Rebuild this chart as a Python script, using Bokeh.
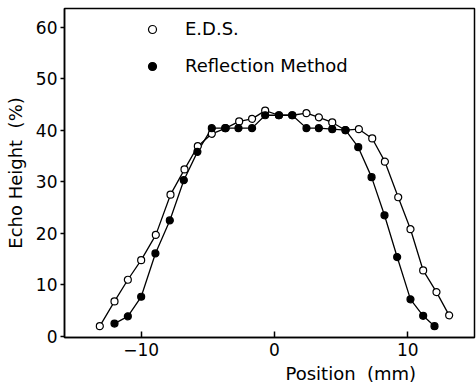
from bokeh.plotting import figure
from bokeh.models import Range1d, FixedTicker, Legend, LegendItem, Title
from bokeh.embed import file_html
from bokeh.resources import INLINE

# E.D.S. (open circles)
eds_x = [-13.1, -12.0, -11.0, -10.0, -8.9, -7.8, -6.75, -5.75, -4.7, -3.65, -2.65,
         -1.68, -0.7, 0.33, 1.33, 2.4, 3.33, 4.33, 5.33, 6.33, 7.33, 8.28, 9.28,
         10.2, 11.15, 12.15, 13.1]
eds_y = [2.0, 6.8, 11.0, 14.8, 19.7, 27.5, 32.4, 36.9, 39.3, 40.4, 41.7,
         42.2, 43.8, 42.9, 42.9, 43.3, 42.5, 41.5, 40.0, 40.2, 38.4, 33.9, 27.0,
         20.8, 12.8, 8.6, 4.1]

# Reflection Method (filled circles)
ref_x = [-12.0, -11.0, -10.0, -8.93, -7.85, -6.8, -5.78, -4.7, -3.7, -2.7,
         -1.68, -0.7, 0.33, 1.33, 2.4, 3.33, 4.33, 5.33, 6.28, 7.28, 8.25, 9.2,
         10.2, 11.15, 12.0]
ref_y = [2.5, 3.9, 7.7, 16.1, 22.5, 30.3, 35.8, 40.4, 40.4, 40.4,
         40.4, 42.9, 42.9, 42.9, 40.4, 40.4, 40.2, 40.0, 36.7, 30.9, 23.5, 15.4,
         7.2, 4.0, 2.0]

x_ticks = [-10, 0, 10]
y_ticks = [0, 10, 20, 30, 40, 50, 60]

FONT = "DejaVu Sans"

p = figure(width=476, height=385, output_backend="svg", toolbar_location=None,
           x_range=Range1d(-15.75, 15.0), y_range=Range1d(-0.2, 63.6),
           min_border_left=64, min_border_right=2, min_border_top=8,
           min_border_bottom=47)
p.background_fill_color = "white"
p.border_fill_color = "white"
p.outline_line_color = "black"
p.outline_line_width = 1.5
p.grid.visible = False

p.line(eds_x, eds_y, line_color="black", line_width=1.3)
p.line(ref_x, ref_y, line_color="black", line_width=1.3)
r_eds = p.scatter(eds_x, eds_y, size=7, marker="circle", fill_color="white",
                  line_color="black", line_width=1.2)
r_ref = p.scatter(ref_x, ref_y, size=7, marker="circle", fill_color="black",
                  line_color="black", line_width=1.2)

xa = p.xaxis[0]
xa.ticker = FixedTicker(ticks=x_ticks)
xa.major_tick_in = 6
xa.major_tick_out = 0
xa.minor_tick_line_color = None
xa.axis_line_width = 1.5
xa.major_tick_line_width = 1.5
xa.major_label_text_font = FONT
xa.major_label_text_font_size = "17px"
xa.major_label_text_color = "black"
xa.major_label_standoff = 5

ya = p.yaxis[0]
ya.ticker = FixedTicker(ticks=y_ticks)
ya.major_tick_in = 0
ya.major_tick_out = 4
ya.minor_tick_line_color = None
ya.axis_line_width = 1.5
ya.major_tick_line_width = 1.5
ya.major_label_text_font = FONT
ya.major_label_text_font_size = "17px"
ya.major_label_text_color = "black"
ya.major_label_standoff = 3
ya.axis_label = "Echo Height\u00a0 (%)"
ya.axis_label_text_font = FONT
ya.axis_label_text_font_style = "normal"
ya.axis_label_text_font_size = "18px"
ya.axis_label_text_color = "black"
ya.axis_label_standoff = 7

xtitle = Title(text="Position\u00a0 (mm)", align="left", offset=221,
               text_font=FONT, text_font_size="18px", text_font_style="normal",
               text_color="black", standoff=4)
p.add_layout(xtitle, "below")

legend = Legend(items=[LegendItem(label="E.D.S.", renderers=[r_eds]),
                       LegendItem(label="Reflection Method", renderers=[r_ref])],
                location=(78, 261), orientation="vertical",
                glyph_width=20, glyph_height=20, label_height=20,
                spacing=16, label_standoff=23, padding=0, margin=0,
                border_line_color=None, background_fill_alpha=0,
                label_text_font=FONT, label_text_font_size="18px",
                label_text_color="black")
p.add_layout(legend, "center")

open("out.html", "w").write(file_html(p, INLINE))
